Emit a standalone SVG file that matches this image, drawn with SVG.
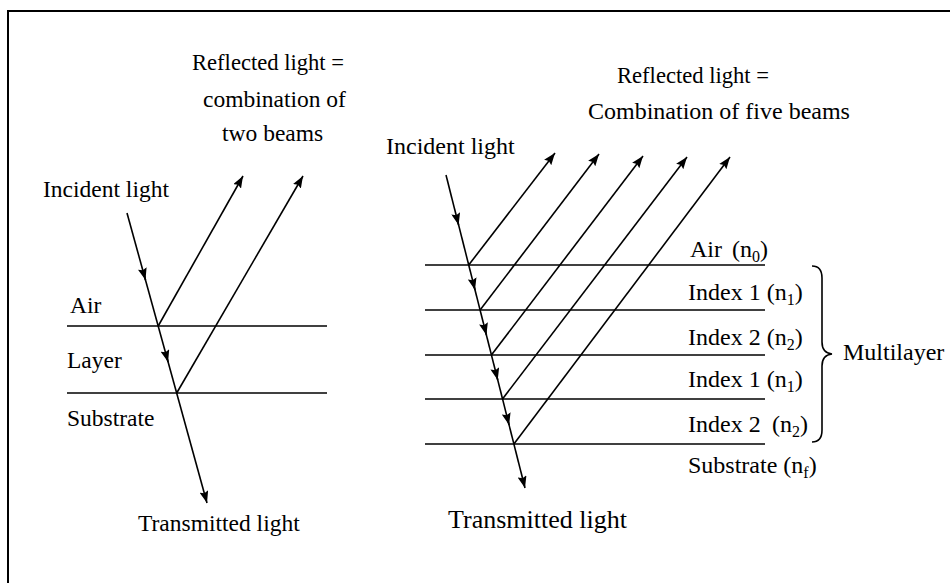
<svg xmlns="http://www.w3.org/2000/svg" width="950" height="583" viewBox="0 0 950 583">
<style>
text{font-family:"Liberation Serif","Times New Roman",serif;fill:#000;font-size:23.5px}
.r{font-size:24px}
.rf{font-size:22.6px}
.big{font-size:26px}
.sub{font-size:16px}
.ln{stroke:#000;stroke-width:1.6;fill:none}
.ray{stroke:#000;stroke-width:1.6;fill:none;marker-end:url(#ah)}
</style>
<defs>
<marker id="ah" markerUnits="userSpaceOnUse" markerWidth="13" markerHeight="9" refX="12" refY="4.5" orient="auto">
<path d="M0,0 L12,4.5 L0,9 L2,4.5 z" fill="#000"/>
</marker>
</defs>
<rect width="950" height="583" fill="#fff"/>
<g id="frame">
<path d="M8,583 L8,11 L950,11" stroke="#000" stroke-width="2" fill="none"/>
</g>
<g id="left-layers">
<line class="ln" x1="67" y1="326" x2="327" y2="326"/>
<line class="ln" x1="67" y1="393" x2="327" y2="393"/>
<text x="70" y="313">Air</text>
<text x="67" y="368">Layer</text>
<text x="67" y="426">Substrate</text>
</g>
<g id="left-labels">
<text class="rf" x="192" y="70">Reflected light =</text>
<text x="203" y="107">combination of</text>
<text x="222" y="141">two beams</text>
<text x="43" y="197">Incident light</text>
<text x="138" y="531">Transmitted light</text>
</g>
<g id="right-layers">
<line class="ln" x1="425" y1="265" x2="765" y2="265"/>
<line class="ln" x1="425" y1="310" x2="765" y2="310"/>
<line class="ln" x1="425" y1="355" x2="765" y2="355"/>
<line class="ln" x1="425" y1="399" x2="765" y2="399"/>
<line class="ln" x1="425" y1="444" x2="765" y2="444"/>
<text class="r" x="690" y="257">Air</text>
<text class="r" x="732" y="257">(n<tspan class="sub" dy="5">0</tspan><tspan dy="-5">)</tspan></text>
<text class="r" x="688" y="300">Index 1 (n<tspan class="sub" dy="5">1</tspan><tspan dy="-5">)</tspan></text>
<text class="r" x="688" y="345">Index 2 (n<tspan class="sub" dy="5">2</tspan><tspan dy="-5">)</tspan></text>
<text class="r" x="688" y="387">Index 1 (n<tspan class="sub" dy="5">1</tspan><tspan dy="-5">)</tspan></text>
<text class="r" x="688" y="432">Index 2 <tspan x="772">(n</tspan><tspan class="sub" dy="5">2</tspan><tspan dy="-5">)</tspan></text>
<text class="r" x="688" y="473">Substrate (n<tspan class="sub" dy="5">f</tspan><tspan dy="-5">)</tspan></text>
</g>
<g id="multilayer">
<path class="ln" d="M812,266 Q822,266 822,278 L822,342 Q822,353 832,354 Q822,355 822,366 L822,430 Q822,442 812,442"/>
<text class="r" x="843" y="360">Multilayer</text>
</g>
<g id="right-labels">
<text class="rf" x="617" y="83">Reflected light =</text>
<text class="r" x="588" y="119">Combination of five beams</text>
<text class="r" x="386" y="154">Incident light</text>
<text class="big" x="448" y="528">Transmitted light</text>
</g>
<g id="connectors">
<line class="ray" x1="127" y1="213" x2="207" y2="503"/>
<line class="ray" x1="142.7" y1="270" x2="145.5" y2="280"/>
<line class="ray" x1="165.3" y1="352" x2="168.1" y2="362"/>
<line class="ray" x1="158.2" y1="326" x2="243" y2="176"/>
<line class="ray" x1="176.7" y1="393" x2="303" y2="176"/>
<line class="ray" x1="446" y1="175" x2="525" y2="488"/>
<line class="ray" x1="456.1" y1="215" x2="458.6" y2="225"/>
<line class="ray" x1="472.5" y1="280" x2="475" y2="290"/>
<line class="ray" x1="483.9" y1="325" x2="486.4" y2="335"/>
<line class="ray" x1="495.2" y1="370" x2="497.7" y2="380"/>
<line class="ray" x1="506.6" y1="415" x2="509.1" y2="425"/>
<line class="ray" x1="468.7" y1="265" x2="555" y2="153"/>
<line class="ray" x1="480.1" y1="310" x2="599" y2="154"/>
<line class="ray" x1="491.4" y1="355" x2="643" y2="156"/>
<line class="ray" x1="502.5" y1="399" x2="687" y2="157"/>
<line class="ray" x1="513.9" y1="444" x2="730" y2="157"/>
</g>
</svg>
